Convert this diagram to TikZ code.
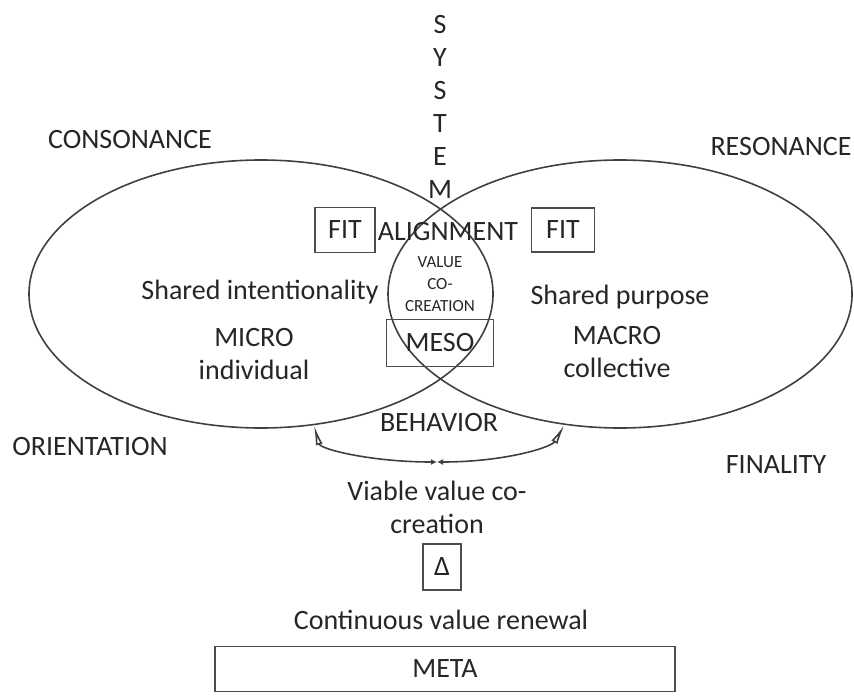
\documentclass[tikz,border=0pt]{standalone}
\usepackage{fontspec}
\setmainfont{Carlito}
\usetikzlibrary{arrows.meta}
\usetikzlibrary{positioning}
\usetikzlibrary{shapes.geometric}

\tikzset{
  lbl/.style={text=black!85, font=\fontsize{14}{16.5}\selectfont},
  tiny/.style={text=black!85, font=\fontsize{8.5}{11}\selectfont, align=center},
  box/.style={draw=black!70, line width=0.7pt, inner sep=0pt, text=black!85, font=\fontsize{14}{16}\selectfont},
  venn/.style={draw=black!75, line width=0.8pt, ellipse, inner sep=0pt, minimum width=232pt, minimum height=134pt},
  bowl/.style={black!75, line width=0.8pt, {Latex[length=3pt,width=3pt]}-{Latex[open,length=10pt,width=3.5pt]}}
}

\begin{document}
\begin{tikzpicture}[x=0.5pt, y=-0.5pt]

\useasboundingbox (0,0) rectangle (854,695);

\node[venn] (micro) at (261,294) {};
\node[venn] (macro) at (620,294) {};

\node[lbl, align=center] (system) at (440,107) {S\\Y\\S\\T\\E\\M};
\node[lbl] (cons) at (130,140) {CONSONANCE};
\node[lbl] (reso) at (781,147) {RESONANCE};
\node[lbl] (orient) at (90,447) {ORIENTATION};
\node[lbl] (final) at (776,465) {FINALITY};

\node[box, minimum width=30pt, minimum height=22.5pt] (fitl) at (345,230) {FIT};
\node[box, minimum width=31.5pt, minimum height=22pt] (fitr) at (563,230) {FIT};
\node[lbl] (align) at (448,232) {ALIGNMENT};
\node[tiny] (vcc) at (440,284) {VALUE\\CO-\\CREATION};
\node[box, minimum width=53.5pt, minimum height=23.5pt] (meso) at (440,343) {MESO};

\node[lbl] (intent) at (260,292) {Shared intentionality};
\node[lbl, align=center] (indiv) at (254,354) {MICRO\\individual};
\node[lbl] (purpose) at (620,297) {Shared purpose};
\node[lbl, align=center] (coll) at (617,352) {MACRO\\collective};

\node[lbl] (behav) at (439,423) {BEHAVIOR};
\coordinate (low) at (437,462);
\draw[bowl] (low) to[out=180, in=-75, out looseness=1.3, in looseness=0.5] (micro.-68);
\draw[bowl] (low) to[out=0, in=-120, out looseness=1.3, in looseness=0.5] (macro.-113);

\node[lbl, align=center, below = 6pt of low] (viable) {Viable value co-\\creation};
\node[box, minimum width=19pt, minimum height=23pt] (delta) at (442,567) {Δ};
\node[lbl] (renew) at (441,620) {Continuous value renewal};
\node[box, minimum width=230pt, minimum height=22.5pt] (meta) at (445,669) {META};

\end{tikzpicture}
\end{document}
